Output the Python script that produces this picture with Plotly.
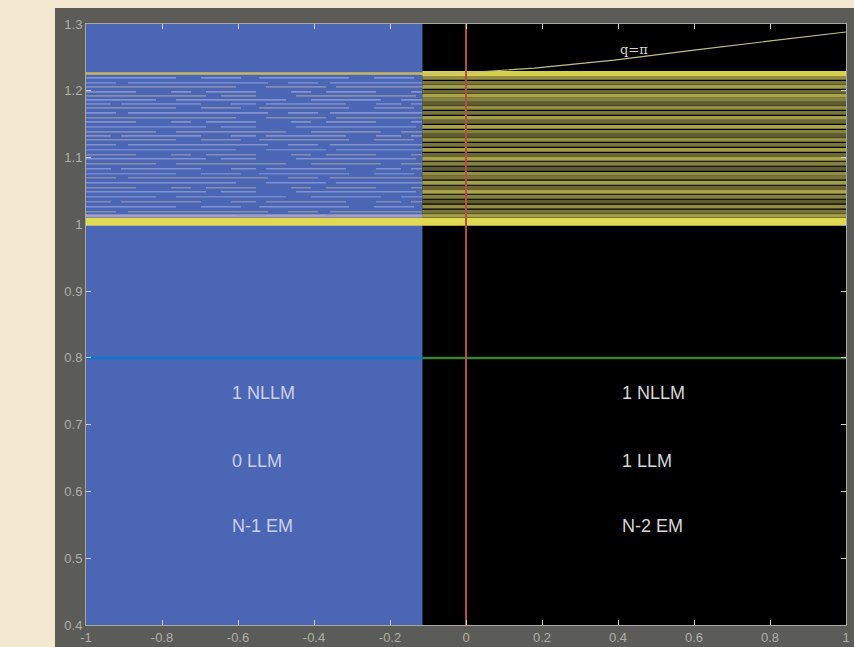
import plotly.graph_objects as go

# Axis extents
x_min, x_max = -1.0, 1.0
y_min, y_max = 0.4, 1.3

# Boundary of the shaded sector and the threshold level
x_split = -0.115
threshold_y = 0.8

# Energy levels of the band (bottom and top edges drawn separately)
band_low = 1.004
band_high = 1.226
band_levels = [1.2193, 1.2118, 1.2058, 1.1983, 1.1923, 1.1864, 1.1804, 1.1744,
               1.1669, 1.1595, 1.1535, 1.1460, 1.1385, 1.1325, 1.1266, 1.1191,
               1.1116, 1.1041, 1.0982, 1.0907, 1.0832, 1.0757, 1.0698, 1.0623,
               1.0548, 1.0488, 1.0413, 1.0339, 1.0264, 1.0189, 1.0129]

# Branch leaving the band at q = pi
qpi_x = [-0.12, 0.0, 0.18, 0.39, 0.60, 0.80, 1.00]
qpi_y = [1.225, 1.227, 1.234, 1.246, 1.261, 1.274, 1.288]

# Tick labels
x_tickvals = [-1, -0.8, -0.6, -0.4, -0.2, 0, 0.2, 0.4, 0.6, 0.8, 1]
x_ticktext = ["-1", "-0.8", "-0.6", "-0.4", "-0.2", "0", "0.2", "0.4", "0.6", "0.8", "1"]
y_tickvals = [0.4, 0.5, 0.6, 0.7, 0.8, 0.9, 1.0, 1.1, 1.2, 1.3]
y_ticktext = ["0.4", "0.5", "0.6", "0.7", "0.8", "0.9", "1", "1.1", "1.2", "1.3"]

# Mode counts in each sector
left_labels = ["1 NLLM", "0 LLM", "N-1 EM"]
right_labels = ["1 NLLM", "1 LLM", "N-2 EM"]
label_y = [0.748, 0.645, 0.548]
left_label_x = -0.622
right_label_x = 0.406
qpi_label = "q=\u03c0"
qpi_label_x, qpi_label_y = 0.442, 1.262

fig = go.Figure()

# Line styling for the band: faint broken streaks over the shaded sector,
# olive lines over the dark sector
left_colors = ["rgba(200,200,240,0.45)", "rgba(150,165,225,0.55)",
               "rgba(225,195,175,0.40)", "rgba(185,190,235,0.50)",
               "rgba(215,210,150,0.40)"]
left_dashes = ["90px,25px,40px,18px", "30px,12px,140px,20px", "150px,30px,60px,10px",
               "50px,35px,20px,15px", "120px,15px,35px,40px", "70px,20px,110px,25px",
               "25px,10px,80px,30px"]
right_colors = ["#928d42", "#7a753a", "#a39f48", "#6b6835", "#a9a44a", "#858140", "#5f5c30"]

for i, lvl in enumerate(band_levels):
    fig.add_trace(go.Scatter(
        x=[x_min, x_split], y=[lvl, lvl], mode="lines",
        line=dict(color=left_colors[i % len(left_colors)], width=1.6,
                  dash=left_dashes[i % len(left_dashes)]),
        hoverinfo="skip", showlegend=False))
    fig.add_trace(go.Scatter(
        x=[x_split, x_max], y=[lvl, lvl], mode="lines",
        line=dict(color=right_colors[i % len(right_colors)], width=3.8),
        hoverinfo="skip", showlegend=False))

# Lavender edge just above the lower band on the shaded side
fig.add_trace(go.Scatter(x=[x_min, x_split], y=[band_levels[-1], band_levels[-1]],
                         mode="lines", line=dict(color="rgba(175,165,200,0.85)", width=3),
                         hoverinfo="skip", showlegend=False))

# Band edges
fig.add_trace(go.Scatter(x=[x_min, x_max], y=[band_low, band_low], mode="lines",
                         line=dict(color="#e0da52", width=8),
                         hoverinfo="skip", showlegend=False))
fig.add_trace(go.Scatter(x=[x_min, x_split], y=[band_high, band_high], mode="lines",
                         line=dict(color="#c9b95e", width=2.5),
                         hoverinfo="skip", showlegend=False))
fig.add_trace(go.Scatter(x=[x_split, x_max], y=[band_high, band_high], mode="lines",
                         line=dict(color="#d6d04c", width=5),
                         hoverinfo="skip", showlegend=False))

# q = pi branch
fig.add_trace(go.Scatter(x=qpi_x, y=qpi_y, mode="lines",
                         line=dict(color="#c0be88", width=1.2),
                         hoverinfo="skip", showlegend=False))

# Threshold level
fig.add_trace(go.Scatter(x=[x_min, x_split], y=[threshold_y, threshold_y], mode="lines",
                         line=dict(color="#1674c8", width=3),
                         hoverinfo="skip", showlegend=False))
fig.add_trace(go.Scatter(x=[x_split, x_max], y=[threshold_y, threshold_y], mode="lines",
                         line=dict(color="#3f7f3a", width=2.5),
                         hoverinfo="skip", showlegend=False))

# q = 0 marker
fig.add_trace(go.Scatter(x=[0, 0], y=[y_min, y_max], mode="lines",
                         line=dict(color="#b84a48", width=2),
                         hoverinfo="skip", showlegend=False))

shapes = [
    # gray frame behind the axes
    dict(type="rect", xref="paper", yref="paper", x0=-0.0408, x1=1.02, y0=-0.05, y1=1.0266,
         fillcolor="#5b5b57", line=dict(width=0), layer="below"),
    dict(type="rect", xref="x", yref="y", x0=x_split, x1=x_max, y0=y_min, y1=y_max,
         fillcolor="#000000", line=dict(width=0), layer="below"),
    dict(type="rect", xref="x", yref="y", x0=x_min, x1=x_split, y0=y_min, y1=y_max,
         fillcolor="#4a66b4", line=dict(width=0), layer="below"),
]

label_font = "Liberation Sans, Arial"
annotations = []
for txt, yy in zip(left_labels, label_y):
    annotations.append(dict(x=left_label_x, y=yy, xref="x", yref="y", text=txt,
                            showarrow=False, xanchor="left", yanchor="middle",
                            font=dict(family=label_font, size=18, color="#cbd0e8")))
for txt, yy in zip(right_labels, label_y):
    annotations.append(dict(x=right_label_x, y=yy, xref="x", yref="y", text=txt,
                            showarrow=False, xanchor="left", yanchor="middle",
                            font=dict(family=label_font, size=18, color="#d6d6d6")))
annotations.append(dict(x=qpi_label_x, y=qpi_label_y, xref="x", yref="y", text=qpi_label,
                        showarrow=False, xanchor="center", yanchor="middle",
                        font=dict(family="DejaVu Serif", size=13, color="#d4d4cc")))

axis_common = dict(
    showgrid=False, zeroline=False, showline=True, linecolor="#a8a8a0", linewidth=1,
    mirror="ticks", ticks="inside", ticklen=5, tickcolor="#d0d0c8", tickwidth=1,
    tickfont=dict(family=label_font, size=13, color="#b0b0a8"), automargin=False,
)

fig.update_layout(
    width=854, height=647,
    margin=dict(l=86, r=8, t=24, b=22, autoexpand=False),
    paper_bgcolor="#f3e9d0",
    plot_bgcolor="#000000",
    shapes=shapes,
    annotations=annotations,
    xaxis=dict(range=[x_min, x_max], tickvals=x_tickvals, ticktext=x_ticktext, **axis_common),
    yaxis=dict(range=[y_min, y_max], tickvals=y_tickvals, ticktext=y_ticktext, **axis_common),
    showlegend=False,
)

fig.write_html("out.html")
